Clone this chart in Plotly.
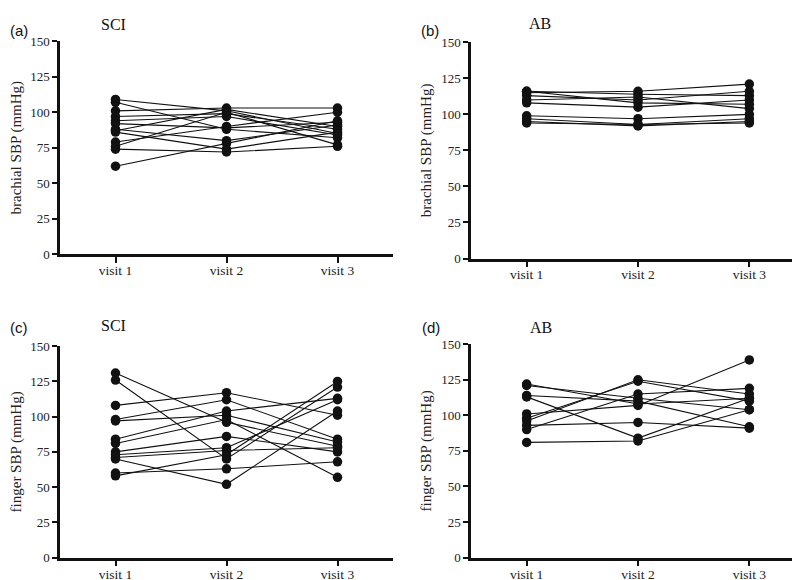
import plotly.graph_objects as go

visits = [1, 2, 3]
visit_labels = ["visit 1", "visit 2", "visit 3"]
y_ticks = [0, 25, 50, 75, 100, 125, 150]

# (a) SCI brachial SBP, one row per participant: visit 1, visit 2, visit 3
sci_brachial = [
    [109, 101, 85], [107, 88, 82], [101, 103, 103], [97, 99, 88],
    [94, 97, 84], [92, 89, 93], [88, 80, 91], [87, 102, 90],
    [86, 74, 86], [79, 90, 100], [76, 100, 77], [74, 72, 76],
    [62, 78, 94],
]
# (b) AB brachial SBP
ab_brachial = [
    [116, 114, 113], [115, 116, 121], [113, 110, 116], [110, 112, 104],
    [108, 105, 110], [116, 108, 107], [99, 97, 100], [97, 93, 97],
    [95, 92, 95], [94, 93, 94],
]
# (c) SCI finger SBP
sci_finger = [
    [131, 96, 79], [126, 70, 121], [108, 117, 101], [98, 112, 84],
    [97, 101, 82], [84, 104, 113], [81, 98, 57], [75, 86, 75],
    [73, 78, 112], [71, 76, 78], [70, 52, 104], [60, 63, 68],
    [58, 73, 125],
]
# (d) AB finger SBP
ab_finger = [
    [122, 108, 112], [121, 112, 104], [114, 110, 92], [113, 84, 112],
    [101, 107, 139], [98, 124, 110], [96, 125, 115], [93, 95, 91],
    [90, 115, 119], [81, 82, 104],
]

panels = [
    ("", sci_brachial, "brachial SBP (mmHg)"),
    ("2", ab_brachial, "brachial SBP (mmHg)"),
    ("3", sci_finger, "finger SBP (mmHg)"),
    ("4", ab_finger, "finger SBP (mmHg)"),
]

W, H = 800, 580
def px_x(v):
    return v / W
def px_y(v):
    return 1 - v / H

# pixel geometry of each panel: x-left, x-right, y(0), y(150)
geom = [
    (52, 385, 245.5, 27),
    (463, 797, 250, 28),
    (52, 385, 557, 340),
    (463, 797, 557, 338),
]

fig = go.Figure()
serif = "Liberation Serif, Times New Roman, serif"
sans = "Liberation Sans, Arial, sans-serif"

for (suffix, data, ytitle), (xl, xr, y0, y1) in zip(panels, geom):
    for row in data:
        fig.add_trace(go.Scatter(
            x=visits, y=row, mode="lines+markers",
            xaxis="x" + suffix, yaxis="y" + suffix,
            line=dict(color="#111111", width=1.1),
            marker=dict(color="#111111", size=9.5),
            showlegend=False, hoverinfo="skip", cliponaxis=False,
        ))
    xa = dict(
        domain=[px_x(xl), px_x(xr)], range=[0.5, 3.5],
        anchor="y" + suffix,
        tickvals=visits, ticktext=visit_labels,
        showline=True, linecolor="#111111", linewidth=2.5,
        ticks="outside", ticklen=6, tickwidth=2, tickcolor="#111111",
        ticklabelstandoff=-4,
        showgrid=False, zeroline=False,
        tickfont=dict(family=serif, size=13.5, color="#222222"),
        fixedrange=True,
    )
    ya = dict(
        domain=[px_y(y0), px_y(y1)], range=[0, 150],
        anchor="x" + suffix,
        tickvals=y_ticks,
        showline=True, linecolor="#111111", linewidth=2.5,
        ticks="outside", ticklen=5, tickwidth=2, tickcolor="#111111",
        showgrid=False, zeroline=False,
        tickfont=dict(family=serif, size=13, color="#222222"),
        title=dict(text=ytitle, font=dict(family=serif, size=15, color="#222222"), standoff=6),
        fixedrange=True,
    )
    fig.layout["xaxis" + suffix] = xa
    fig.layout["yaxis" + suffix] = ya

labels = [
    ("(a)", 11, 16, sans), ("SCI", 105, 10, serif),
    ("(b)", 422, 16, sans), ("AB", 532, 9, serif),
    ("(c)", 11, 321, sans), ("SCI", 105, 319, serif),
    ("(d)", 423, 321, sans), ("AB", 533, 321, serif),
]
annotations = []
for text, x, y, fam in labels:
    annotations.append(dict(
        text=text, x=px_x(x), y=px_y(y), xref="paper", yref="paper",
        xanchor="center", yanchor="middle", showarrow=False,
        font=dict(family=fam, size=16 if fam == serif else 15, color="#111111"),
    ))

fig.update_layout(
    width=W, height=H,
    margin=dict(l=0, r=0, t=0, b=0),
    paper_bgcolor="white", plot_bgcolor="white",
    annotations=annotations,
    showlegend=False,
)

fig.write_html("out.html")
